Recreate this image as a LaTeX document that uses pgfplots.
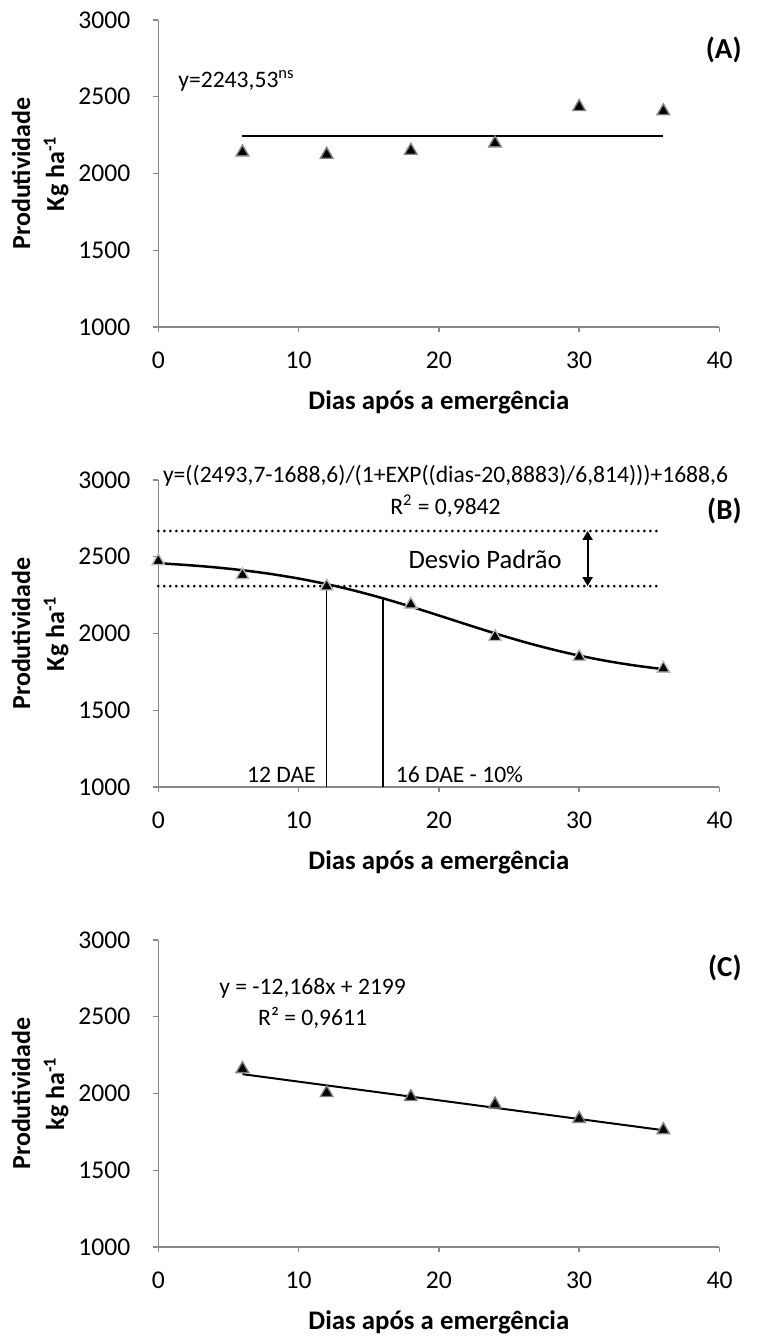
\documentclass[border=0pt]{standalone}
\usepackage{fontspec}
\setmainfont{Carlito}
\usepackage{pgfplots}
\pgfplotsset{compat=1.18}
\usetikzlibrary{arrows.meta}
\definecolor{eixo}{HTML}{888888}
\newcommand{\ftxt}{\fontsize{11.8}{14}\selectfont}
\newcommand{\fpan}{\fontsize{14.5}{17}\selectfont\bfseries}
\newcommand{\ftick}{\fontsize{12.8}{15}\selectfont}

\pgfplotsset{
  painel/.style={
    scale only axis, width=280.6pt, height=153.5pt,
    xmin=0, xmax=40, ymin=1000, ymax=3000,
    xtick={0,10,20,30,40}, ytick={1000,1500,2000,2500,3000},
    xticklabels={0,10,20,30,40},
    yticklabels={1000,1500,2000,2500,3000},
    axis x line*=bottom, axis y line*=left,
    tick align=outside, major tick length=2.5pt,
    tick style={eixo, line width=0.7pt},
    axis line style={eixo, line width=0.75pt},
    yticklabel style={font=\ftick, xshift=-8pt},
    xticklabel style={font=\ftick, yshift=-6.5pt},
    xlabel={Dias após a emergência},
    xlabel style={font=\fontsize{13.4}{16}\selectfont\bfseries,
      at={(axis description cs:0.5,-0.2443)}, anchor=center},
    ylabel style={font=\fontsize{13}{17}\selectfont\bfseries, align=center,
      at={(axis description cs:-0.2103,0.5)}, anchor=center},
    clip=false,
  },
  tri/.style={only marks, mark=triangle*, mark size=3.6pt,
    mark options={fill=black, draw=#1, line width=0.7pt}},
  tri/.default={gray},
}

\begin{document}
\begin{tikzpicture}
\useasboundingbox (-79.15pt,163.5pt) rectangle (299.85pt,-506.5pt);

% (A)
\begin{axis}[painel, at={(0,0)}, ylabel={Produtividade\\Kg ha\textsuperscript{-1}}]
\addplot[black, line width=1pt] coordinates {(6,2243.53)(36,2243.53)};
\addplot[tri] coordinates {
  (6,2138)(12,2123)(18,2149)(24,2197)(30,2434)(36,2406)
};
\node[anchor=west, inner sep=0, font=\ftxt] at (axis cs:1.4,2603) {y=2243,53\textsuperscript{ns}};
\node[anchor=east, inner sep=0, font=\fpan] at (axis cs:41.6,2805) {(A)};
\end{axis}

% (B)
\begin{axis}[painel, at={(0,-230pt)}, ylabel={Produtividade\\Kg ha\textsuperscript{-1}}]
\addplot[black, line width=1.5pt, dash pattern=on 0pt off 3pt, line cap=round]
  coordinates {(0,2668)(35.8,2668)};
\addplot[black, line width=1.5pt, dash pattern=on 0pt off 3pt, line cap=round]
  coordinates {(0,2309)(35.8,2309)};
\addplot[black, line width=0.75pt] coordinates {(12,1000)(12,2309)};
\addplot[black, line width=0.75pt] coordinates {(16,1000)(16,2229.6)};
\addplot[black, line width=1pt, {Triangle[length=4.5pt,width=5pt]}-{Triangle[length=4.5pt,width=5pt]}]
  coordinates {(30.6,2668)(30.6,2309)};
\addplot[black, line width=1.25pt, smooth] coordinates {
  (0,2457.9)(2,2446.3)(4,2431.4)(6,2412.3)(8,2388.2)(10,2358.2)(12,2321.9)
  (14,2278.9)(16,2229.6)(18,2175.2)(20,2117.4)(22,2058.4)(24,2000.8)
  (26,1946.9)(28,1898.3)(30,1856.0)(32,1820.4)(34,1791.2)(36,1767.6)
};
\addplot[tri=gray!55] coordinates {
  (0,2472)(6,2381)(12,2307)(18,2189)(24,1978)(30,1848)(36,1772)
};
\node[anchor=center, inner sep=0, font=\ftxt] at (axis cs:20.47,3030)
  {y=((2493,7-1688,6)/(1+EXP((dias-20,8883)/6,814)))+1688,6};
\node[anchor=center, inner sep=0, font=\ftxt] at (axis cs:20.47,2830) {R\textsuperscript{2} = 0,9842};
\node[anchor=east, inner sep=0, font=\fpan] at (axis cs:41.6,2800) {(B)};
\node[anchor=center, inner sep=0, font=\fontsize{13.3}{16}\selectfont] at (axis cs:23.3,2485) {Desvio Padrão};
\node[anchor=east, inner sep=0, font=\ftxt] at (axis cs:11.25,1080) {12 DAE};
\node[anchor=west, inner sep=0, font=\ftxt] at (axis cs:16.9,1080) {16 DAE - 10\%};
\end{axis}

% (C)
\begin{axis}[painel, at={(0,-460pt)}, ylabel={Produtividade\\kg ha\textsuperscript{-1}}]
\addplot[black, line width=1pt] coordinates {(6,2126.0)(36,1760.9)};
\addplot[tri] coordinates {
  (6,2160)(12,2004)(18,1978)(24,1929)(30,1835)(36,1762)
};
\node[anchor=center, inner sep=0, font=\ftxt] at (axis cs:11.0,2685) {y = -12,168x + 2199};
\node[anchor=center, inner sep=0, font=\ftxt] at (axis cs:11.0,2490) {R² = 0,9611};
\node[anchor=east, inner sep=0, font=\fpan] at (axis cs:41.6,2815) {(C)};
\end{axis}
\end{tikzpicture}
\end{document}
